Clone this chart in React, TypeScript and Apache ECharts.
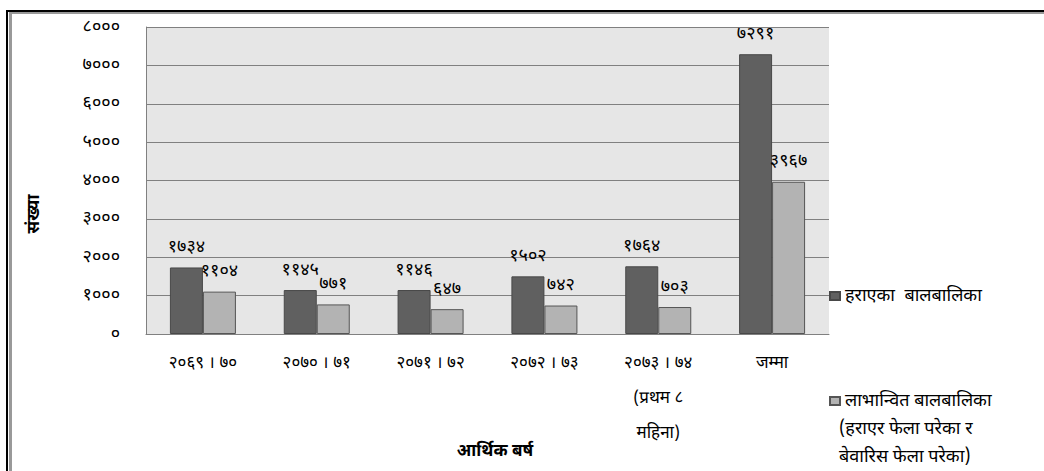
import React, { useEffect, useRef } from "react";
import * as echarts from "echarts";

const categories = [
  "२०६९ । ७०",
  "२०७० । ७१",
  "२०७१ । ७२",
  "२०७२ । ७३",
  "२०७३ । ७४\n(प्रथम ८\nमहिना)",
  "जम्मा",
];
const lostChildren = [1734, 1145, 1146, 1502, 1764, 7291];
const benefitedChildren = [1104, 771, 647, 742, 703, 3967];
const seriesNames = ["हराएका  बालबालिका", "लाभान्वित बालबालिका"];
const benefitedLegendExtraLines = ["(हराएर फेला परेका र", "बेवारिस फेला परेका)"];
const yAxisTitle = "संख्या";
const xAxisTitle = "आर्थिक बर्ष";

const FONT = "'Noto Sans Devanagari', 'Lohit Devanagari', 'FreeSans', 'Noto Sans', sans-serif";
const devDigits = "०१२३४५६७८९";
const toDev = (v: number | string) =>
  String(v).replace(/[0-9]/g, (d) => devDigits[Number(d)]);

export default function App() {
  const ref = useRef<HTMLDivElement>(null);
  useEffect(() => {
    if (!ref.current) return;
    const chart = echarts.init(ref.current, undefined, { renderer: "svg" });
    const labelStyle = {
      show: true,
      position: "top" as const,
      distance: 11,
      color: "#000",
      fontFamily: FONT,
      fontSize: 18,
      fontWeight: "normal" as const,
      formatter: (p: any) => toDev(p.value),
    };
    const legendText = { fontFamily: FONT, fontSize: 18, color: "#000" };
    chart.setOption({
      animation: false,
      backgroundColor: "#fff",
      grid: {
        left: 146,
        right: 215,
        top: 27,
        bottom: 137,
        show: true,
        backgroundColor: "#e6e6e6",
        borderWidth: 0,
      },
      legend: [
        {
          data: [{ name: seriesNames[0], icon: "rect" }],
          orient: "vertical",
          left: 824,
          top: 282,
          itemWidth: 10,
          itemHeight: 8,
          itemGap: 4,
          textStyle: legendText,
        },
        {
          data: [{ name: seriesNames[1], icon: "rect" }],
          orient: "vertical",
          left: 824,
          top: 387,
          itemWidth: 10,
          itemHeight: 8,
          itemGap: 4,
          textStyle: legendText,
        },
      ],
      xAxis: {
        type: "category",
        data: categories,
        axisLine: { show: true, lineStyle: { color: "#808080", width: 1 } },
        axisTick: { show: false },
        axisLabel: {
          interval: 0,
          margin: 12,
          color: "#000",
          fontFamily: FONT,
          fontSize: 17,
          lineHeight: 35,
        },
      },
      yAxis: {
        type: "value",
        min: 0,
        max: 8000,
        interval: 1000,
        axisLine: { show: true, lineStyle: { color: "#808080", width: 1 } },
        axisTick: { show: false },
        splitLine: { show: true, lineStyle: { color: "#808080", width: 1 } },
        axisLabel: {
          margin: 26,
          color: "#000",
          fontFamily: FONT,
          fontSize: 18,
          formatter: (v: number) => toDev(v),
        },
      },
      series: [
        {
          name: seriesNames[0],
          type: "bar",
          data: lostChildren,
          barWidth: 33,
          barGap: "0%",
          itemStyle: { color: "#606060", borderColor: "#484848", borderWidth: 1 },
          label: labelStyle,
        },
        {
          name: seriesNames[1],
          type: "bar",
          data: benefitedChildren,
          barWidth: 33,
          barGap: "0%",
          itemStyle: { color: "#b3b3b3", borderColor: "#555555", borderWidth: 1 },
          label: labelStyle,
        },
      ],
      graphic: [
        { type: "rect", shape: { x: 6, y: 10, width: 1044, height: 2 }, style: { fill: "#000" } },
        { type: "rect", shape: { x: 9, y: 12, width: 1044, height: 2 }, style: { fill: "#999" } },
        { type: "rect", shape: { x: 6, y: 10, width: 2, height: 471 }, style: { fill: "#000" } },
        { type: "rect", shape: { x: 9, y: 12, width: 3, height: 471 }, style: { fill: "#999" } },
        {
          type: "text",
          x: 35,
          y: 214,
          rotation: Math.PI / 2,
          style: {
            text: yAxisTitle,
            align: "center",
            verticalAlign: "middle",
            fontFamily: FONT,
            fontSize: 17,
            fontWeight: "bold",
            fill: "#000",
          },
        },
        {
          type: "text",
          x: 495,
          y: 452,
          style: {
            text: xAxisTitle,
            align: "center",
            verticalAlign: "middle",
            fontFamily: FONT,
            fontSize: 17,
            fontWeight: "bold",
            fill: "#000",
          },
        },
        ...benefitedLegendExtraLines.map((t, i) => ({
          type: "text" as const,
          x: 839,
          y: 429 + i * 28,
          style: {
            text: t,
            align: "left" as const,
            verticalAlign: "middle" as const,
            fontFamily: FONT,
            fontSize: 18,
            fill: "#000",
          },
        })),
      ],
    });
    return () => chart.dispose();
  }, []);
  return (
    <div
      ref={ref}
      style={{ position: "fixed", left: 0, top: 0, width: 1044, height: 471 }}
    />
  );
}
